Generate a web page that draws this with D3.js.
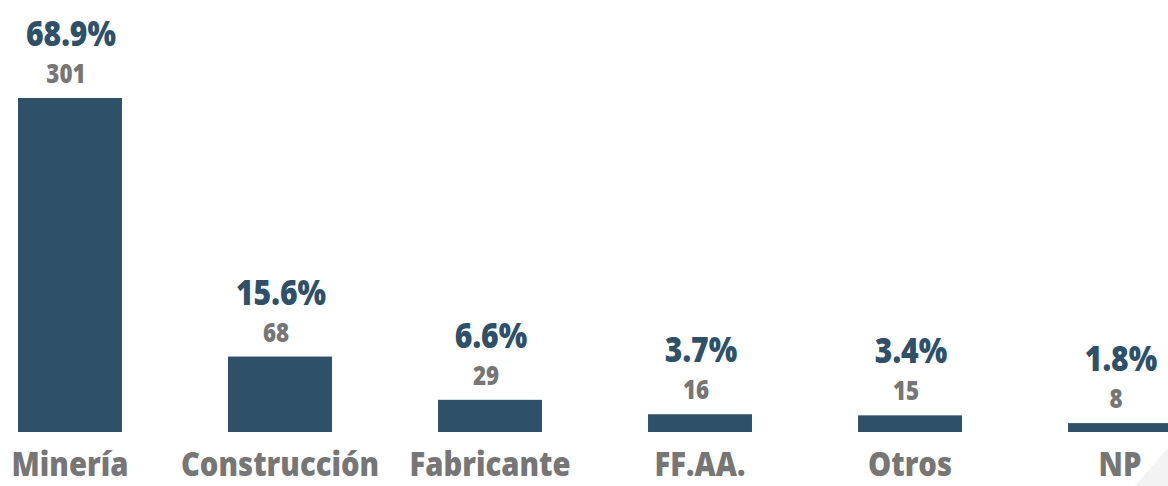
<!DOCTYPE html>
<html>
<head>
<meta charset="utf-8">
<script src="https://cdn.jsdelivr.net/npm/d3@7"></script>
<style>
	html, body { margin: 0; padding: 0; background: #fff; }
	svg { display: block; }
	text { font-family: "Open Sans", "Noto Sans", sans-serif; font-weight: 800; }
</style>
</head>
<body>
<svg class="chart"></svg>
<script>
// data
var categories = ['Minería', 'Construcción', 'Fabricante', 'FF.AA.', 'Otros', 'NP'];
var counts = [301, 68, 29, 16, 15, 8];
var percents = ['68.9%', '15.6%', '6.6%', '3.7%', '3.4%', '1.8%'];

window.onload = function() {

	var width = 1168,
		height = 486;

	var baseline = 432;
	var squeeze = 0.86;   // the fonts in the picture look condensed

	var svg = d3.select('.chart')
		.attr('width', width)
		.attr('height', height);

	// light corner decoration
	svg.append('path')
		.attr('d', 'M1135,486 L1168,448 L1168,486 Z')
		.attr('fill', '#f3f3f3');

	var data = categories.map(function(c, i) {
		return {name: c, n: counts[i], pct: percents[i]};
	});

	var x = d3.scaleBand()
		.domain(categories)
		.range([18, 1172])
		.paddingInner(0.505)
		.paddingOuter(0);

	var y = d3.scaleLinear()
		.domain([0, 301])
		.range([baseline, 98]);

	var bar = svg.selectAll('g.bar')
		.data(data)
	.enter().append('g')
		.attr('class', 'bar');

	bar.append('rect')
		.attr('x', function(d) { return x(d.name); })
		.attr('y', function(d) { return y(d.n); })
		.attr('width', x.bandwidth())
		.attr('height', function(d) { return baseline - y(d.n); })
		.attr('fill', '#2f5069');

	function cx(d) { return x(d.name) + x.bandwidth() / 2; }

	// counts above the bars
	bar.append('text')
		.attr('transform', function(d) {
			return 'translate(' + (cx(d) - 4) + ',' + (y(d.n) - 15) + ') scale(' + squeeze + ',1)';
		})
		.attr('text-anchor', 'middle')
		.style('font-size', '26px')
		.attr('fill', '#767676')
		.text(function(d) { return d.n; });

	// percentages above the counts
	bar.append('text')
		.attr('transform', function(d) {
			return 'translate(' + (cx(d) + 1) + ',' + (y(d.n) - 52) + ') scale(' + squeeze + ',1)';
		})
		.attr('text-anchor', 'middle')
		.style('font-size', '35px')
		.attr('fill', '#2f5069')
		.text(function(d) { return d.pct; });

	// category axis, no line or ticks
	var xAxis = d3.axisBottom(x).tickSize(0).tickPadding(0);

	var axis = svg.append('g')
		.attr('class', 'x axis')
		.attr('transform', 'translate(0,' + baseline + ')')
		.call(xAxis);

	axis.select('.domain').remove();

	axis.selectAll('text')
		.attr('x', 0)
		.attr('y', 0)
		.attr('dy', 0)
		.attr('transform', 'translate(0,44) scale(' + squeeze + ',1)')
		.attr('fill', '#767676')
		.style('font-size', '34px')
		.style('font-family', '"Open Sans", "Noto Sans", sans-serif')
		.style('font-weight', 800);
}
</script>
</body>
</html>
